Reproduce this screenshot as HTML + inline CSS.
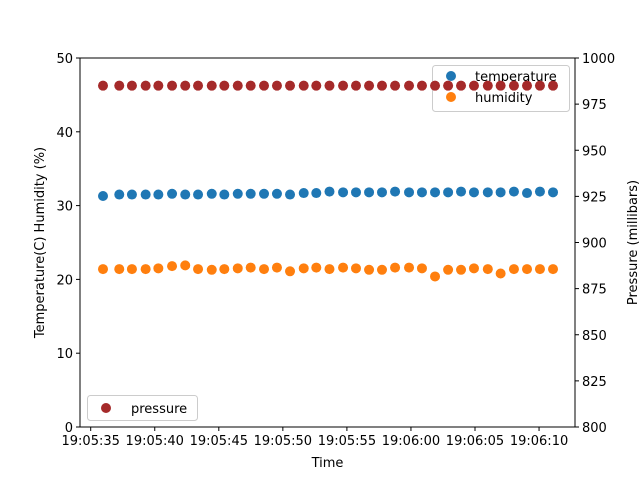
<!DOCTYPE html>
<html><head><meta charset="utf-8"><style>
body{margin:0;background:#fff;}
svg text{font-family:"DejaVu Sans","Liberation Sans",sans-serif;font-size:13px;fill:#000;}
</style></head><body>
<svg id="c" width="640" height="480" viewBox="0 0 640 480">
<rect x="0" y="0" width="640" height="480" fill="#fff"/>
<g id="ax"></g>
</svg>
<script>
const times=[0.96,2.23,3.22,4.29,5.28,6.35,7.38,8.38,9.45,10.43,11.48,12.49,13.53,14.54,15.56,16.63,17.61,18.64,19.7,20.71,21.73,22.74,23.76,24.85,25.86,26.88,27.9,28.91,29.92,31.0,32.0,33.04,34.06,35.07,36.09];
const temperature=[31.3,31.5,31.5,31.5,31.5,31.6,31.5,31.5,31.6,31.5,31.6,31.6,31.6,31.6,31.5,31.7,31.7,31.9,31.8,31.8,31.8,31.8,31.9,31.8,31.8,31.8,31.8,31.9,31.8,31.8,31.8,31.9,31.7,31.9,31.8];
const humidity=[21.4,21.4,21.4,21.4,21.5,21.8,21.9,21.4,21.3,21.4,21.5,21.6,21.4,21.6,21.1,21.5,21.6,21.4,21.6,21.5,21.3,21.3,21.6,21.6,21.5,20.4,21.3,21.3,21.5,21.4,20.8,21.4,21.4,21.4,21.4];
const pressure=[985,985,985,985,985,985,985,985,985,985,985,985,985,985,985,985,985,985,985,985,985,985,985,985,985,985,985,985,985,985,985,985,985,985,985];
const xTicks=[0,5,10,15,20,25,30,35];
const xTickLabels=["19:05:35","19:05:40","19:05:45","19:05:50","19:05:55","19:06:00","19:06:05","19:06:10"];
const yTicks=[0,10,20,30,40,50];
const y2Ticks=[800,825,850,875,900,925,950,975,1000];

const L=80,R=575,T=58,B=427;
const x=t=>90.7+t*12.81;
const y=v=>B-(v/50)*(B-T);
const y2=v=>B-((v-800)/200)*(B-T);
const NS="http://www.w3.org/2000/svg";
const g=document.getElementById('ax');
function el(tag,attrs,parent){const e=document.createElementNS(NS,tag);for(const k in attrs)e.setAttribute(k,attrs[k]);(parent||g).appendChild(e);return e;}
function txt(s,attrs){const e=el('text',attrs);e.textContent=s;return e;}

const frame=el('rect',{x:L,y:T,width:R-L,height:B-T,fill:'none',stroke:'#000','stroke-width':1});



xTicks.forEach((t,i)=>{
 const tk=el('line',{x1:x(t),x2:x(t),y1:B,y2:B+4,stroke:'#000'});
 
 
 const lb=txt(xTickLabels[i],{x:x(t),y:B+18,'text-anchor':'middle'});
 
 
});
yTicks.forEach(v=>{
 const tk=el('line',{x1:L-4,x2:L,y1:y(v),y2:y(v),stroke:'#000'});
 
 
 const lb=txt(String(v),{x:L-7,y:y(v)+5,'text-anchor':'end'});
 
 
});
y2Ticks.forEach(v=>{
 const tk=el('line',{x1:R,x2:R+4,y1:y2(v),y2:y2(v),stroke:'#000'});
 
 
 const lb=txt(String(v),{x:R+7,y:y2(v)+5,'text-anchor':'start'});
 
 
});
let t1=txt('Time',{x:(L+R)/2,y:467,'text-anchor':'middle'});


let t2=txt('Temperature(C) Humidity (%)',{x:44,y:(T+B)/2,'text-anchor':'middle',transform:'rotate(-90 44 '+((T+B)/2)+')'});


let t3=txt('Pressure (millibars)',{x:637,y:(T+B)/2,'text-anchor':'middle',transform:'rotate(-90 637 '+((T+B)/2)+')'});



times.forEach((t,i)=>{
 const a=el('circle',{cx:x(t),cy:y(temperature[i]),r:5,fill:'#1f77b4'});
 
 
 const b=el('circle',{cx:x(t),cy:y(humidity[i]),r:5,fill:'#ff7f0e'});
 
 
});
const lg=el('g',{});


el('rect',{x:432.5,y:65.5,width:137,height:46,rx:3,fill:'#fff','fill-opacity':0.8,stroke:'#ccc'},lg);
el('circle',{cx:451,cy:76,r:5,fill:'#1f77b4'},lg);
let e1=el('text',{x:475,y:81},lg);e1.textContent='temperature';


el('circle',{cx:451,cy:97,r:5,fill:'#ff7f0e'},lg);
let e2=el('text',{x:475,y:102},lg);e2.textContent='humidity';



times.forEach((t,i)=>{
 const c=el('circle',{cx:x(t),cy:y2(pressure[i]),r:5,fill:'#a52a2a'});
 
 
});
const lg2=el('g',{});


el('rect',{x:87.5,y:395.5,width:110,height:25,rx:3,fill:'#fff','fill-opacity':0.8,stroke:'#ccc'},lg2);
el('circle',{cx:106,cy:408,r:5,fill:'#a52a2a'},lg2);
let e3=el('text',{x:131,y:413},lg2);e3.textContent='pressure';


</script>
</body></html>
